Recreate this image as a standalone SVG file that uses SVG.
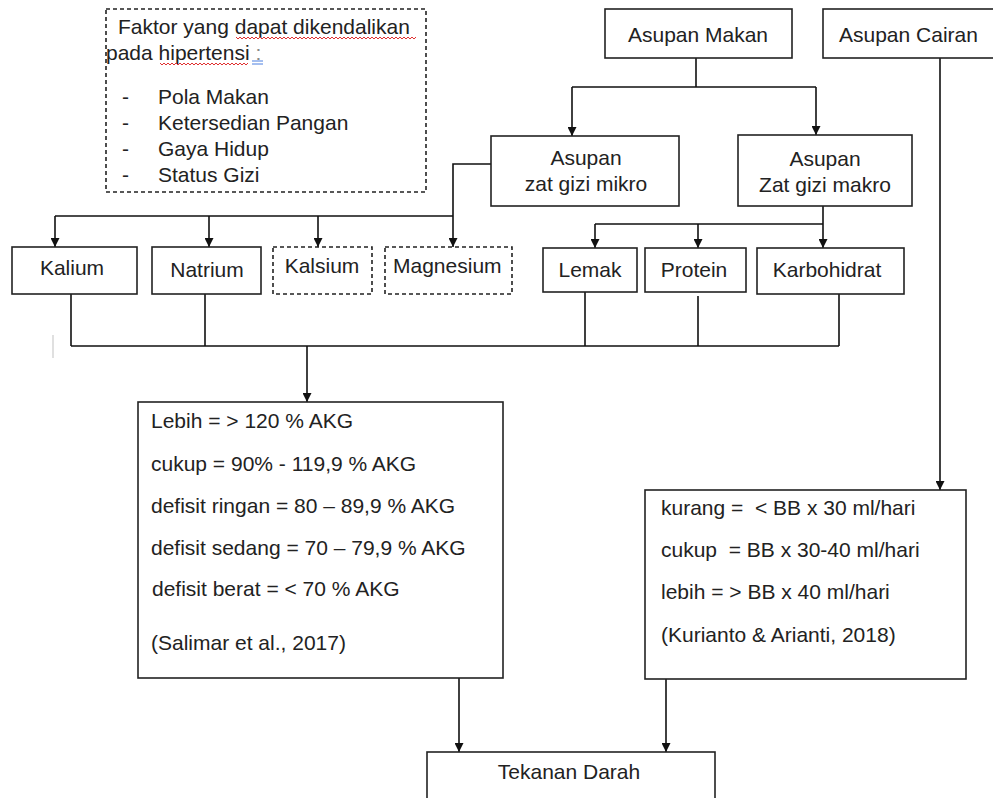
<svg xmlns="http://www.w3.org/2000/svg" width="993" height="798" viewBox="0 0 993 798">
<defs>
<marker id="ah" viewBox="0 0 10 10" refX="10" refY="5" markerWidth="9" markerHeight="9" markerUnits="userSpaceOnUse" orient="auto">
<path d="M0,0 L10,5 L0,10 z" fill="#111"/>
</marker>
<style>
text{font-family:"Liberation Sans",Arial,sans-serif;font-size:21px;fill:#222}
.c{text-anchor:middle}
.box{fill:#fff;stroke:#222;stroke-width:1.6}
.dash{fill:#fff;stroke:#222;stroke-width:1.6;stroke-dasharray:4 3}
.ln{fill:none;stroke:#111;stroke-width:1.6}
.ar{fill:none;stroke:#111;stroke-width:1.6;marker-end:url(#ah)}
.sq{fill:none;stroke:#e03030;stroke-width:1}
</style>
</defs>
<rect width="993" height="798" fill="#fff"/>

<g id="faktor">
<rect class="dash" x="106" y="9" width="320" height="183"/>
<text x="118" y="34">Faktor yang dapat dikendalikan</text>
<text x="106" y="60">pada hipertensi <tspan fill="#888">:</tspan></text>
<path class="sq" d="M236,37 l2,2 l2,-2 l2,2 l2,-2 l2,2 l2,-2 l2,2 l2,-2 l2,2 l2,-2 l2,2 l2,-2 l2,2 l2,-2 l2,2 l2,-2 l2,2 l2,-2 l2,2 l2,-2 l2,2 l2,-2 l2,2 l2,-2 l2,2 l2,-2 l2,2 l2,-2 l2,2 l2,-2 l2,2 l2,-2 l2,2 l2,-2 l2,2 l2,-2 l2,2 l2,-2 l2,2 l2,-2 l2,2 l2,-2 l2,2 l2,-2 l2,2 l2,-2 l2,2 l2,-2 l2,2 l2,-2 l2,2 l2,-2 l2,2 l2,-2 l2,2 l2,-2 l2,2 l2,-2 l2,2 l2,-2 l2,2 l2,-2 l2,2 l2,-2 l2,2 l2,-2 l2,2 l2,-2 l2,2 l2,-2 l2,2 l2,-2 l2,2 l2,-2 l2,2 l2,-2 l2,2 l2,-2 l2,2 l2,-2 l2,2 l2,-2 l2,2 l2,-2 l2,2 l2,-2 l2,2 l2,-2 l2,2 l2,-2"/>
<path class="sq" d="M160,63 l2,2 l2,-2 l2,2 l2,-2 l2,2 l2,-2 l2,2 l2,-2 l2,2 l2,-2 l2,2 l2,-2 l2,2 l2,-2 l2,2 l2,-2 l2,2 l2,-2 l2,2 l2,-2 l2,2 l2,-2 l2,2 l2,-2 l2,2 l2,-2 l2,2 l2,-2 l2,2 l2,-2 l2,2 l2,-2 l2,2 l2,-2 l2,2 l2,-2 l2,2 l2,-2 l2,2 l2,-2 l2,2 l2,-2 l2,2 l2,-2"/>
<path d="M252,61 h11 M252,64 h11" stroke="#4a7fe0" stroke-width="1" fill="none"/>
<text x="122" y="104">-</text><text x="158" y="104">Pola Makan</text>
<text x="122" y="130">-</text><text x="158" y="130">Ketersedian Pangan</text>
<text x="122" y="156">-</text><text x="158" y="156">Gaya Hidup</text>
<text x="122" y="182">-</text><text x="158" y="182">Status Gizi</text>
</g>

<g id="connectors">
<path class="ln" d="M696,58 V87 M572,87 H816"/>
<path class="ar" d="M572,87 V136"/>
<path class="ar" d="M816,87 V135"/>
<path class="ar" d="M940,58 V490"/>
<path class="ln" d="M491,164 H453 V216 M55,216 H453"/>
<path class="ar" d="M55,216 V247"/>
<path class="ar" d="M209,216 V247"/>
<path class="ar" d="M318,216 V247"/>
<path class="ar" d="M453,216 V247"/>
<path class="ln" d="M823,206 V224 M595,224 H823"/>
<path class="ar" d="M595,224 V248"/>
<path class="ar" d="M698,224 V248"/>
<path class="ar" d="M823,224 V248"/>
<path class="ln" d="M71,294 V346 M205,294 V346 M585,292 V346 M698,296 V346 M839,294 V346 M71,346 H839"/>
<path class="ar" d="M307,346 V402"/>
<path class="ar" d="M459,678 V752"/>
<path class="ar" d="M666,679 V752"/>
<path d="M53,335 V358" stroke="#ccc" stroke-width="1.2" fill="none"/>
</g>

<g id="asupan-makan">
<rect class="box" x="605" y="9" width="187" height="49"/>
<text class="c" x="698" y="42">Asupan Makan</text>
</g>
<g id="asupan-cairan">
<rect class="box" x="823" y="9" width="190" height="49"/>
<text x="839" y="42">Asupan Cairan</text>
</g>
<g id="asupan-mikro">
<rect class="box" x="491" y="136" width="188" height="70"/>
<text class="c" x="586" y="165">Asupan</text>
<text class="c" x="586" y="191">zat gizi mikro</text>
</g>
<g id="asupan-makro">
<rect class="box" x="738" y="135" width="174" height="71"/>
<text class="c" x="825" y="166">Asupan</text>
<text class="c" x="825" y="192">Zat gizi makro</text>
</g>
<g id="kalium">
<rect class="box" x="12" y="247" width="125" height="47"/>
<text class="c" x="72" y="275">Kalium</text>
</g>
<g id="natrium">
<rect class="box" x="152" y="247" width="109" height="47"/>
<text class="c" x="207" y="277">Natrium</text>
</g>
<g id="kalsium">
<rect class="dash" x="273" y="247" width="99" height="47"/>
<text class="c" x="322" y="273">Kalsium</text>
</g>
<g id="magnesium">
<rect class="dash" x="385" y="247" width="127" height="47"/>
<text x="393" y="273">Magnesium</text>
</g>
<g id="lemak">
<rect class="box" x="543" y="248" width="94" height="44"/>
<text class="c" x="590" y="277">Lemak</text>
</g>
<g id="protein">
<rect class="box" x="645" y="248" width="101" height="44"/>
<text class="c" x="694" y="277">Protein</text>
</g>
<g id="karbohidrat">
<rect class="box" x="757" y="248" width="147" height="46"/>
<text class="c" x="827" y="277">Karbohidrat</text>
</g>
<g id="kategori-akg">
<rect class="box" x="138" y="402" width="365" height="276"/>
<text x="151" y="428">Lebih = &gt; 120 % AKG</text>
<text x="151" y="471">cukup = 90% - 119,9 % AKG</text>
<text x="151" y="513">defisit ringan = 80 – 89,9 % AKG</text>
<text x="151" y="555">defisit sedang = 70 – 79,9 % AKG</text>
<text x="152" y="596">defisit berat = &lt; 70 % AKG</text>
<text x="151" y="650">(Salimar et al., 2017)</text>
</g>
<g id="kategori-cairan">
<rect class="box" x="645" y="490" width="321" height="189"/>
<text x="661" y="515" xml:space="preserve">kurang =  &lt; BB x 30 ml/hari</text>
<text x="661" y="557" xml:space="preserve">cukup  = BB x 30-40 ml/hari</text>
<text x="661" y="599">lebih = &gt; BB x 40 ml/hari</text>
<text x="661" y="642">(Kurianto &amp; Arianti, 2018)</text>
</g>
<g id="tekanan-darah">
<rect class="box" x="427" y="752" width="288" height="60"/>
<text class="c" x="569" y="779">Tekanan Darah</text>
</g>
</svg>
